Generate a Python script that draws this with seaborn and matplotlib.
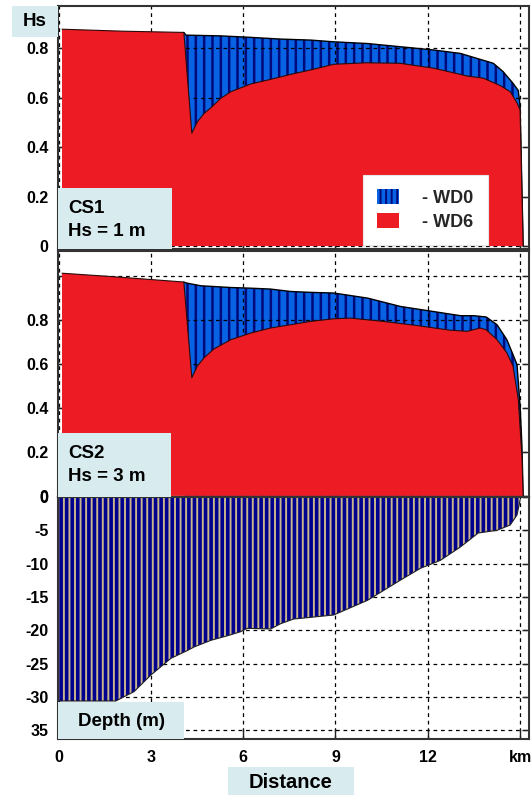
import matplotlib
matplotlib.use("Agg")
import matplotlib.pyplot as plt
import seaborn as sns
from matplotlib.patches import Patch, Rectangle

# ---------------- data ----------------
cs1_wd6_x = [0.11, 2.09, 4.07, 4.33, 4.51, 4.73, 4.95, 5.27, 5.60, 6.24, 6.89, 7.54, 8.19,
             8.94, 10.0, 11.1, 12.2, 13.3, 13.8, 14.35, 14.68, 14.9, 15.0, 15.1]
cs1_wd6 = [0.878, 0.870, 0.865, 0.457, 0.503, 0.537, 0.56, 0.598, 0.625, 0.656, 0.675, 0.695, 0.713,
           0.736, 0.742, 0.74, 0.72, 0.688, 0.68, 0.65, 0.625, 0.58, 0.55, 0.0]

cs1_wd0_x = [4.07, 4.14, 5.27, 6.24, 7.22, 8.19, 8.94, 10.04, 11.11, 12.18, 13.06, 13.70,
             14.13, 14.45, 14.77, 14.94, 15.0, 15.1]
cs1_wd0 = [0.865, 0.854, 0.851, 0.845, 0.838, 0.834, 0.827, 0.82, 0.807, 0.794, 0.78, 0.756,
           0.74, 0.706, 0.659, 0.63, 0.57, 0.0]

cs2_wd6_x = [0.11, 1.70, 4.07, 4.33, 4.51, 4.73, 5.05, 5.60, 6.24, 6.89, 7.54, 8.19, 8.94, 9.49,
             10.56, 11.66, 12.73, 13.28, 13.7, 13.9, 14.25, 14.57, 14.77, 14.94, 15.06, 15.1]
cs2_wd6 = [1.012, 0.997, 0.972, 0.537, 0.59, 0.628, 0.668, 0.71, 0.74, 0.763, 0.778, 0.793, 0.805, 0.808,
           0.793, 0.774, 0.753, 0.748, 0.763, 0.755, 0.71, 0.65, 0.59, 0.44, 0.18, 0.0]

cs2_wd0_x = [4.07, 4.14, 4.62, 5.60, 6.24, 6.89, 7.54, 8.19, 8.94, 10.04, 11.11, 12.18, 13.06,
             13.5, 13.9, 14.25, 14.57, 14.77, 14.9, 15.0, 15.06, 15.1]
cs2_wd0 = [0.972, 0.968, 0.955, 0.947, 0.944, 0.94, 0.929, 0.925, 0.922, 0.899, 0.861, 0.838, 0.819,
           0.819, 0.813, 0.778, 0.71, 0.642, 0.597, 0.41, 0.23, 0.0]

depth_x = [0.0, 1.86, 2.45, 3.0, 3.65, 4.2, 4.4, 4.95, 5.5, 5.92, 6.13, 6.89, 7.22, 7.64, 7.87,
           8.94, 10.04, 11.1, 11.76, 12.41, 13.06, 13.64, 14.25, 14.68, 14.9, 15.0]
depth_m = [-30.6, -30.6, -29.2, -26.7, -24.2, -23.0, -22.5, -21.5, -20.8, -20.2, -19.7, -19.8, -19.0,
           -18.3, -18.2, -17.7, -15.5, -12.5, -10.7, -9.5, -7.5, -5.4, -5.0, -4.2, -2.7, -0.5]

x_ticks = [0, 3, 6, 9, 12, 15]
x_tick_labels = ["0", "3", "6", "9", "12", "km"]
hs_ticks = [0, 0.2, 0.4, 0.6, 0.8, 1.0]
hs_tick_labels = ["0", "0.2", "0.4", "0.6", "0.8", ""]
depth_ticks = [0, -5, -10, -15, -20, -25, -30, -35]
depth_tick_labels = ["0", "-5", "-10", "-15", "-20", "-25", "-30", "35"]
series_labels = ["- WD0", "- WD6"]
panel_labels = ["CS1\nHs = 1 m", "CS2\nHs = 3 m"]

# ---------------- style ----------------
sns.set_style("ticks")
plt.rcParams["font.family"] = ["Liberation Sans", "DejaVu Sans"]
plt.rcParams["font.weight"] = "bold"
plt.rcParams["hatch.linewidth"] = 1.4

RED = "#ed1c24"
BLUE_FACE = "#0862e4"
BLUE_HATCH = "#000a7a"
NAVY = "#00008e"
TAN = "#c9b58c"
BOX = "#d8ebee"
GRID_KW = dict(color="black", linestyle=(0, (3, 3)), linewidth=0.9)

W, H = 531, 795
fig = plt.figure(figsize=(W / 100, H / 100), dpi=100)


def px_axes(left, top, right, bottom):
    return fig.add_axes([left / W, 1 - bottom / H, (right - left) / W, (bottom - top) / H])


ax1 = px_axes(58, 6, 529, 249)
ax2 = px_axes(58, 251, 529, 497)
ax3 = px_axes(58, 497, 529, 739)

XLIM = (-0.02, 15.29)


def style_axes(ax, ylim, yticks, ylabels, show_x):
    ax.set_xlim(*XLIM)
    ax.set_ylim(*ylim)
    ax.set_xticks(x_ticks)
    ax.set_xticklabels(x_tick_labels if show_x else [])
    ax.set_yticks(yticks)
    ax.set_yticklabels(ylabels)
    ax.set_axisbelow(False)
    ax.grid(True, **GRID_KW)
    ax.tick_params(axis="y", direction="in", length=5, width=1, left=True, right=True,
                   labelsize=11.5, pad=7, colors="#222222", labelcolor="black")
    ax.tick_params(axis="x", direction="in", length=7, width=1, bottom=True, top=False,
                   labelsize=11.5, pad=8, colors="#222222", labelcolor="black")
    for sp in ax.spines.values():
        sp.set_visible(True)
        sp.set_linewidth(1.5)
        sp.set_color("#333333")
        sp.set_zorder(5)
    ax.set_xlabel("")
    ax.set_ylabel("")


def draw_hs(ax, x0, y0, x6, y6):
    blue = ax.fill_between(x0, y0, 0, facecolor=BLUE_FACE, edgecolor=BLUE_HATCH, hatch="||",
                           linewidth=0, zorder=1)
    try:
        blue.set_hatch_linewidth(1.8)
    except AttributeError:
        pass
    sns.lineplot(x=x0, y=y0, ax=ax, color="black", linewidth=1.0, sort=False,
                 estimator=None, zorder=1.2)
    ax.fill_between(x6, y6, 0, facecolor=RED, edgecolor="none", linewidth=0, zorder=3)
    sns.lineplot(x=x6, y=y6, ax=ax, color="#2a0a0a", linewidth=0.8, sort=False,
                 estimator=None, zorder=3.1)


draw_hs(ax1, cs1_wd0_x, cs1_wd0, cs1_wd6_x, cs1_wd6)
style_axes(ax1, (-0.012, 0.972), hs_ticks[:-1], hs_tick_labels[:-1], False)

draw_hs(ax2, cs2_wd0_x, cs2_wd0, cs2_wd6_x, cs2_wd6)
style_axes(ax2, (-0.005, 1.113), hs_ticks, hs_tick_labels, False)

ax3.fill_between(depth_x, depth_m, 0, facecolor=NAVY, edgecolor=TAN, hatch="|||",
                 linewidth=0, zorder=3)
sns.lineplot(x=depth_x, y=depth_m, ax=ax3, color="#222222", linewidth=0.8, sort=False,
             estimator=None, zorder=3.1)
style_axes(ax3, (-36.3, 0), depth_ticks, depth_tick_labels, True)

# legend
handles = [Patch(facecolor=BLUE_FACE, edgecolor=BLUE_HATCH, hatch="|||", linewidth=0),
           Patch(facecolor=RED, edgecolor="none", linewidth=0)]
leg = ax1.legend(handles, series_labels, loc="lower right",
                 bbox_to_anchor=((488 - 58) / 471, (249 - 245) / 243),
                 borderaxespad=0, frameon=True, fancybox=False, fontsize=13,
                 handlelength=1.2, handleheight=0.85, handletextpad=1.3,
                 labelspacing=0.35, borderpad=0.8)
leg.get_frame().set_facecolor("white")
leg.get_frame().set_edgecolor("#e6e6e6")
leg.get_frame().set_linewidth(0.8)
leg.get_frame().set_alpha(1)
for t in leg.get_texts():
    t.set_fontweight("bold")
leg.set_zorder(6)


def box(left, top, right, bottom):
    r = Rectangle((left / W, 1 - bottom / H), (right - left) / W, (bottom - top) / H,
                  transform=fig.transFigure, facecolor=BOX, edgecolor="none", zorder=10)
    fig.add_artist(r)


def ftext(x, y, s, ha="left", size=13.5):
    fig.text(x / W, 1 - y / H, s, ha=ha, va="center", fontsize=size, fontweight="bold",
             color="black", zorder=11, linespacing=1.45)


box(12, 6, 58, 37)
ftext(35, 22, "Hs", ha="center")

box(58, 188, 172, 249)
ftext(68, 220, panel_labels[0])

box(58, 433, 171, 497)
ftext(68, 465, panel_labels[1])

box(58, 702, 184, 739)
ftext(121, 721, "Depth (m)", ha="center")

box(228, 767, 354, 795)
ftext(291, 782, "Distance", ha="center", size=14.5)

fig.savefig("out.png", dpi=100)
